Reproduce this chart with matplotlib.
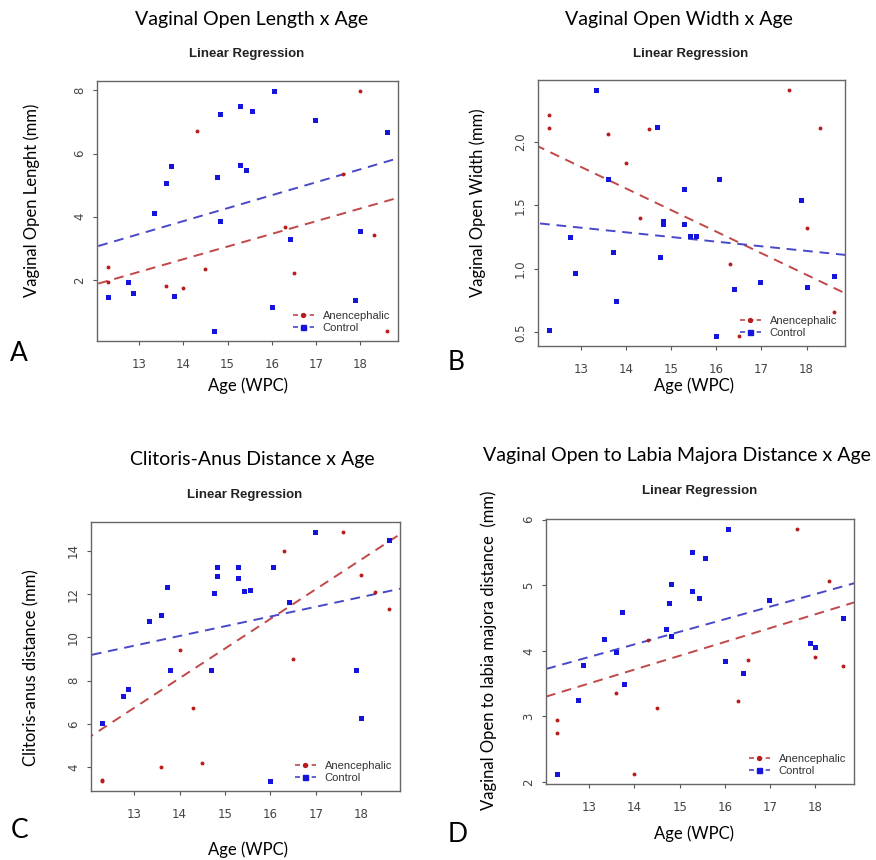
import numpy as np
import matplotlib.pyplot as plt
from matplotlib.lines import Line2D

# ages (weeks post conception) for each group
age_ctrl = [12.3, 12.75, 12.87, 13.33, 13.6, 13.72, 13.78, 14.69, 14.76, 14.82, 14.82,
            15.28, 15.28, 15.42, 15.55, 16.0, 16.06, 16.4, 16.97, 17.88, 18.0, 18.6]
age_anen = [12.3, 12.3, 13.6, 14.0, 14.3, 14.5, 16.3, 16.5, 17.6, 18.0, 18.3, 18.6]

# vaginal open length (mm)
len_ctrl = [1.45, 1.93, 1.60, 4.13, 5.06, 5.62, 1.48, 0.38, 5.26, 7.24, 3.86,
            7.50, 5.65, 5.47, 7.33, 1.15, 7.99, 3.29, 7.06, 1.36, 3.55, 6.67]
len_anen = [2.42, 1.94, 1.81, 1.73, 6.72, 2.35, 3.67, 2.22, 5.36, 7.98, 3.41, 0.37]

# vaginal open width (mm)
wid_ctrl = [0.52, 1.25, 0.97, 2.41, 1.71, 1.13, 0.75, 2.12, 1.09, 1.38, 1.35,
            1.63, 1.35, 1.26, 1.26, 0.47, 1.71, 0.84, 0.90, 1.54, 0.86, 0.94]
wid_anen = [2.21, 2.11, 2.06, 1.83, 1.40, 2.10, 1.04, 0.47, 2.41, 1.32, 2.11, 0.66]

# clitoris-anus distance (mm)
ca_ctrl = [6.03, 7.29, 7.63, 10.78, 11.02, 12.33, 8.50, 8.50, 12.06, 12.85, 13.26,
           13.26, 12.76, 12.17, 12.19, 3.37, 13.26, 11.64, 14.88, 8.50, 6.28, 14.53]
ca_anen = [3.42, 3.36, 4.03, 9.43, 6.74, 4.19, 14.0, 9.01, 14.88, 12.88, 12.12, 11.33]

# vaginal open to labia majora distance (mm)
vl_ctrl = [2.13, 3.25, 3.79, 4.18, 3.98, 4.59, 3.49, 4.34, 4.73, 5.02, 4.22,
           5.50, 4.91, 4.80, 5.41, 3.84, 5.86, 3.66, 4.77, 4.12, 4.06, 4.50]
vl_anen = [2.95, 2.75, 3.35, 2.12, 4.17, 3.13, 3.23, 3.86, 5.86, 3.90, 5.07, 3.77]

# regression lines (intercept, slope): anencephalic, control
len_fit = [(-2.96, 0.401), (-1.88, 0.410)]
wid_fit = [(4.013, -0.170), (1.80, -0.0366)]
ca_fit = [(-11.09, 1.372), (3.77, 0.450)]
vl_fit = [(0.76, 0.211), (1.41, 0.192)]

W, H = 876, 860
RED_PT = "#b81c1c"
BLUE_PT = "#1414dc"
RED_LN = "#c04848"
BLUE_LN = "#4848c8"
GREY = "#555555"

fig = plt.figure(figsize=(W / 100, H / 100), dpi=100)


def px_axes(left, top, right, bottom):
    return fig.add_axes([left / W, 1 - bottom / H, (right - left) / W, (bottom - top) / H])


def fig_text(x, y, s, **kw):
    fig.text(x / W, 1 - y / H, s, ha="center", va="center", **kw)


def r_range(vals):
    lo, hi = min(vals), max(vals)
    pad = 0.04 * (hi - lo)
    return lo - pad, hi + pad


def panel(box, ctrl, anen, fits, yticks, ylabel, title, title_xy, sub_xy, ylab_xy, xlab_xy,
          letter, letter_xy, fmt="{:g}"):
    ax = px_axes(*box)
    # regression lines first so the points sit on top
    xs = np.array([11.0, 20.0])
    for (b, k), col in zip(fits, [RED_LN, BLUE_LN]):
        ax.plot(xs, b + k * xs, color=col, lw=1.4, dashes=(5, 3.5))
    ax.plot(age_anen, anen, "o", color=RED_PT, ms=2.8, mew=0)
    ax.plot(age_ctrl, ctrl, "s", color=BLUE_PT, ms=3.6, mew=0)

    ax.set_xlim(*r_range(age_ctrl + age_anen))
    ax.set_ylim(*r_range(ctrl + anen))
    ax.set_xticks([13, 14, 15, 16, 17, 18])
    ax.set_yticks(yticks)
    ax.set_yticklabels([fmt.format(v) for v in yticks], rotation=90, va="center")
    ax.tick_params(direction="out", length=3, width=0.8, color=GREY, labelcolor="#444444",
                   labelsize=8.5, pad=9)
    ax.tick_params(axis="y", pad=5)
    for s in ax.spines.values():
        s.set_color("#666666")
        s.set_linewidth(1.0)

    handles = [
        Line2D([], [], color=RED_LN, lw=1.2, dashes=(3, 2), marker="o", ms=2.8,
               mfc=RED_PT, mec=RED_PT),
        Line2D([], [], color=BLUE_LN, lw=1.2, dashes=(3, 2), marker="s", ms=3.6,
               mfc=BLUE_PT, mec=BLUE_PT),
    ]
    ax.legend(handles, ["Anencephalic", "Control"], loc="lower right", frameon=False,
              handlelength=1.9, handletextpad=0.8, labelspacing=0.2,
              borderaxespad=0.3, labelcolor="#333333",
              prop={"family": "Liberation Sans", "size": 8})

    fig_text(*title_xy, title, fontsize=14, family="Lato")
    fig_text(*sub_xy, "Linear Regression", fontsize=9.5, family="Liberation Sans",
             weight="bold", color="#222222")
    fig_text(*ylab_xy, ylabel, fontsize=12, family="Lato", rotation=90)
    fig_text(*xlab_xy, "Age (WPC)", fontsize=12, family="Lato")
    fig_text(*letter_xy, letter, fontsize=19, family="Lato")
    return ax


panel((97, 81, 398, 341), len_ctrl, len_anen, len_fit, [2, 4, 6, 8],
      "Vaginal Open Lenght (mm)", "Vaginal Open Length x Age",
      (252, 19), (247, 54), (32, 200), (248, 386), "A", (19, 354))

panel((538, 80, 845, 346), wid_ctrl, wid_anen, wid_fit, [0.5, 1.0, 1.5, 2.0],
      "Vaginal Open Width (mm)", "Vaginal Open Width x Age",
      (679, 19), (691, 54), (478, 203), (694, 386), "B", (456, 362), fmt="{:.1f}")

panel((91, 522, 400, 791), ca_ctrl, ca_anen, ca_fit, [4, 6, 8, 10, 12, 14],
      "Clitoris-anus distance (mm)", "Clitoris-Anus Distance x Age",
      (252, 459), (245, 495), (31, 668), (248, 850), "C", (20, 830))

panel((546, 519, 854, 784), vl_ctrl, vl_anen, vl_fit, [2, 3, 4, 5, 6],
      "Vaginal Open to labia majora distance  (mm)", "Vaginal Open to Labia Majora Distance x Age",
      (677, 456), (700, 491), (489, 650), (694, 834), "D", (458, 835))

fig.savefig("out.png", dpi=100)
